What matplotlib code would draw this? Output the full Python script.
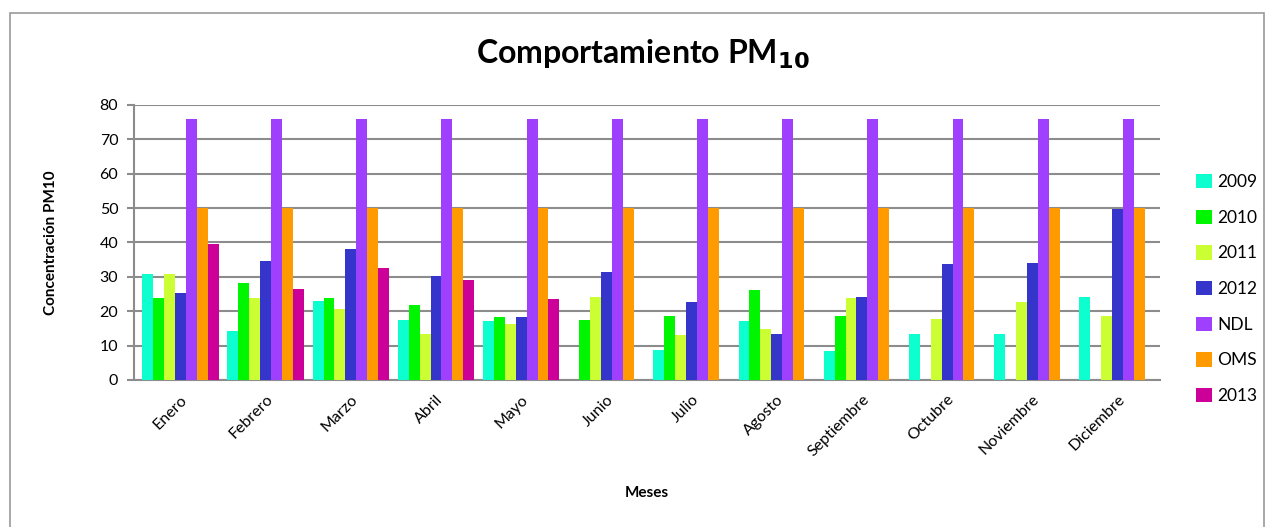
import numpy as np
import matplotlib
matplotlib.use('Agg')
import matplotlib.pyplot as plt
from matplotlib.patches import Rectangle

plt.rcParams['font.family'] = ['Lato', 'DejaVu Sans']

# Données
meses = ['Enero', 'Febrero', 'Marzo', 'Abril', 'Mayo', 'Junio', 'Julio',
         'Agosto', 'Septiembre', 'Octubre', 'Noviembre', 'Diciembre']
nan = np.nan
s2009 = [30.9, 14.1, 22.9, 17.5, 17.1, nan, 8.6, 17.2, 8.4, 13.3, 13.3, 24.0]
s2010 = [23.7, 28.3, 23.7, 21.9, 18.2, 17.3, 18.7, 26.1, 18.5, nan, nan, nan]
s2011 = [30.9, 23.9, 20.6, 13.4, 16.4, 24.2, 13.0, 14.8, 23.8, 17.8, 22.6, 18.7]
s2012 = [25.2, 34.6, 38.0, 30.2, 18.2, 31.4, 22.6, 13.5, 24.0, 33.8, 34.0, 49.7]
ndl = [76] * 12
oms = [50] * 12
s2013 = [39.4, 26.4, 32.7, 29.1, 23.6, nan, nan, nan, nan, nan, nan, nan]

series = [s2009, s2010, s2011, s2012, ndl, oms, s2013]
noms = ['2009', '2010', '2011', '2012', 'NDL', 'OMS', '2013']
couleurs = ['#0DFFD0', '#00F500', '#CCFF33', '#3535CC', '#A040FF', '#FF9A00', '#CC0099']

fig = plt.figure(figsize=(12.72, 5.27), dpi=100)
ax = fig.add_axes([0.105, 0.279, 0.807, 0.522])

# Cadre autour du graphique
fig.patches.append(Rectangle((0.008, -0.01), 0.986, 0.985, transform=fig.transFigure,
                             fill=False, edgecolor='#9A9A9A', linewidth=1.2))

x = np.arange(len(meses))
largeur = 0.128
for i, (vals, nom, c) in enumerate(zip(series, noms, couleurs)):
    pos = x + (i - 3) * largeur
    ax.bar(pos, vals, width=largeur, color=c, label=nom, zorder=3)

ax.set_xlim(-0.55, 11.5)
ax.set_ylim(0, 80)
ax.set_yticks(range(0, 81, 10))
ax.yaxis.grid(True, color='#8C8C8C', linewidth=1.5, zorder=0)
ax.set_axisbelow(True)
for cote in ['top', 'right']:
    ax.spines[cote].set_visible(False)
ax.spines['left'].set_color('#8C8C8C')
ax.spines['bottom'].set_color('#8C8C8C')
ax.spines['left'].set_linewidth(1.5)
ax.spines['bottom'].set_linewidth(1.5)
ax.tick_params(axis='y', color='#8C8C8C', length=5, width=1.5, labelsize=11.5, pad=6)
ax.tick_params(axis='x', length=0, labelsize=11.5, pad=9)

ax.set_xticks(x)
ax.set_xticklabels(meses, rotation=45, ha='right', rotation_mode='anchor')

ax.set_ylabel('Concentración PM10', fontsize=11, fontweight='bold', labelpad=30)
ax.set_xlabel('Meses', fontsize=11, fontweight='bold', labelpad=19)

fig.text(0.505, 0.897, r'Comportamiento PM$_{\mathbf{10}}$', ha='center', va='center',
         fontsize=23, fontweight='bold')

leg = ax.legend(loc='upper left', bbox_to_anchor=(0.935, 0.683), bbox_transform=fig.transFigure,
                frameon=False, fontsize=12.5, handlelength=0.9, handleheight=0.9,
                handletextpad=0.3, labelspacing=1.12, borderaxespad=0)

fig.savefig('out.png', dpi=100)
